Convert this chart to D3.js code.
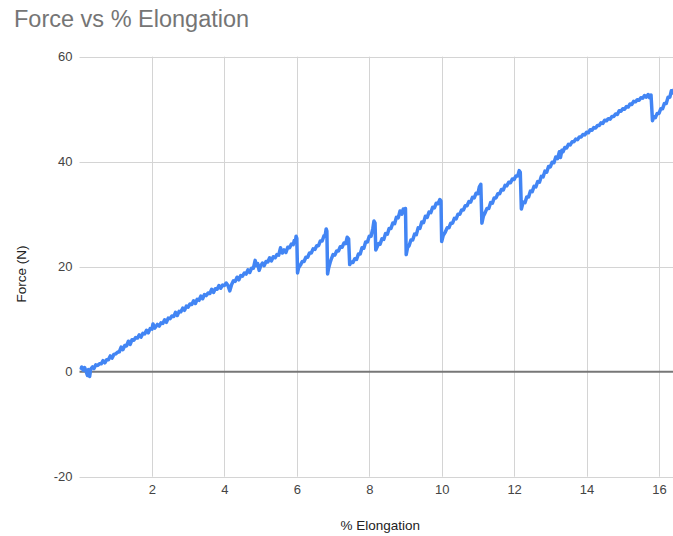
<!DOCTYPE html>
<html>
<head>
<meta charset="utf-8">
<script src="https://cdn.jsdelivr.net/npm/d3@7"></script>
<style>
	body { margin: 0; background: #fff; }
	svg { display: block; font-family: Arial, "Liberation Sans", sans-serif; }
</style>
</head>
<body>
<svg id="chart" width="673" height="536"></svg>
<script>
"use strict";

var chartTitle = "Force vs % Elongation";
var xLabel = "% Elongation";
var yLabel = "Force (N)";
var xTicks = [2, 4, 6, 8, 10, 12, 14, 16];
var yTicks = [-20, 0, 20, 40, 60];

// readings: [% elongation, force N]
var rampToFirstSlip = [
	[0.02,0.4],[0.06,0.9],[0.1,0.3],[0.14,0.8],[0.18,0.1],[0.22,-0.7],[0.25,0.4],[0.28,-0.9],[0.31,0.5],[0.36,0.9],
	[0.4,0.6],[0.45,1.3],[0.5,1.2],[0.55,1.5],[0.6,1.5],[0.65,2.1],[0.7,1.7],[0.75,2.3],[0.8,2.3],[0.85,3.0],
	[0.9,2.6],[0.95,3.3],[1.0,3.4],[1.05,3.7],[1.1,3.8],[1.15,4.7],[1.2,4.2],[1.25,5.0],[1.3,4.9],[1.35,5.8],
	[1.4,5.2],[1.45,6.1],[1.5,6.0],[1.55,6.5],[1.6,6.4],[1.65,7.0],[1.7,6.6],[1.75,7.3],[1.8,7.2],[1.85,7.9],
	[1.9,7.4],[1.95,8.2],[2.0,8.1],[2.03,9.1],[2.08,8.3],[2.15,9.0],[2.2,8.7],[2.25,9.3],[2.3,9.2],[2.35,9.9],
	[2.4,9.4],[2.45,10.2],[2.5,10.1],[2.55,10.6],[2.6,10.5],[2.65,11.3],[2.7,10.7],[2.75,11.5],[2.8,11.4],[2.85,12.1],
	[2.9,11.7],[2.95,12.5],[3.0,12.3],[3.05,12.9],[3.1,12.8],[3.15,13.5],[3.2,13.0],[3.25,13.8],[3.3,13.6],[3.35,14.4],
	[3.4,13.9],[3.45,14.7],[3.5,14.5],[3.55,15.0],[3.6,14.9],[3.65,15.7],[3.7,15.1],[3.75,15.8],[3.8,15.7],[3.85,16.4],
	[3.9,15.9],[3.95,16.5],[4.0,16.4],[4.05,16.9],[4.1,16.4],[4.15,15.4],[4.2,16.6],[4.25,17.3],[4.3,17.2],[4.35,18.0],
	[4.4,17.5],[4.45,18.3],[4.5,18.2],[4.55,18.8],[4.6,18.6],[4.65,19.4],[4.7,18.9],[4.75,19.7],[4.8,19.7],[4.85,21.2],
	[4.88,20.2],[4.92,20.6],[4.96,19.3],[5.0,20.1],[5.05,20.7],[5.1,20.2],[5.15,21.0],[5.2,20.9],[5.25,21.7],[5.3,21.1],
	[5.35,21.9],[5.4,21.7],[5.45,22.3],[5.5,22.2],[5.55,23.6],[5.6,22.6],[5.65,23.2],[5.7,22.7],[5.75,23.7],[5.8,23.6],
	[5.85,24.3],[5.9,24.2],[5.93,25.0],[5.96,24.7],[5.98,25.8],[6.0,25.4]
];
var slipCycles = [
	[6.02,18.8],[6.05,19.8],[6.1,20.3],[6.15,21.0],[6.2,21.0],[6.25,21.8],[6.3,21.8],[6.35,22.6],[6.4,22.6],[6.45,23.4],
	[6.5,23.3],[6.55,24.0],[6.6,24.0],[6.65,24.9],[6.7,24.9],[6.75,25.9],[6.78,25.8],[6.81,27.2],[6.83,26.8],
	[6.85,18.6],[6.88,19.8],[6.92,20.8],[6.96,21.6],[7.0,22.3],[7.05,22.2],[7.1,23.0],[7.15,23.0],[7.2,23.8],[7.25,23.7],
	[7.3,24.5],[7.35,24.4],[7.39,25.6],[7.43,25.3],
	[7.46,20.4],[7.5,20.9],[7.55,20.8],[7.6,21.5],[7.65,21.4],[7.7,22.4],[7.75,22.4],[7.8,23.6],[7.85,23.5],[7.9,24.7],
	[7.95,24.7],[8.0,25.8],[8.05,25.8],[8.1,27.3],[8.13,28.7],[8.16,28.3],
	[8.18,23.2],[8.22,23.8],[8.26,24.4],[8.3,24.3],[8.35,25.3],[8.4,25.2],[8.45,26.3],[8.5,26.2],[8.55,27.3],[8.6,27.3],
	[8.65,28.3],[8.7,28.2],[8.75,29.4],[8.8,29.3],[8.85,30.6],[8.9,30.0],[8.94,31.0],[8.98,30.5],[9.0,31.1],
	[9.02,22.3],[9.06,23.7],[9.1,24.0],[9.15,25.1],[9.2,25.1],[9.25,26.2],[9.3,26.1],[9.35,27.4],[9.4,27.3],[9.45,28.5],
	[9.5,28.4],[9.55,29.6],[9.6,29.4],[9.65,30.4],[9.7,30.3],[9.75,31.3],[9.8,31.2],[9.85,32.1],[9.9,32.0],[9.95,32.8],[9.98,32.5],
	[10.0,24.8],[10.04,25.9],[10.1,26.6],[10.15,27.4],[10.2,27.4],[10.25,28.3],[10.3,28.3],[10.35,29.2],[10.4,29.1],[10.45,30.0],
	[10.5,30.0],[10.55,30.8],[10.6,30.8],[10.65,31.6],[10.7,31.6],[10.75,32.4],[10.8,32.3],[10.85,33.2],[10.9,33.1],[10.95,34.0],
	[11.0,33.9],[11.04,35.2],[11.08,35.7],
	[11.11,28.3],[11.15,29.6],[11.2,30.3],[11.25,31.1],[11.3,31.1],[11.35,32.2],[11.4,32.1],[11.45,33.1],[11.5,33.1],[11.55,33.9],
	[11.6,33.9],[11.65,34.7],[11.7,34.6],[11.75,35.5],[11.8,35.4],[11.85,36.1],[11.9,36.0],[11.95,36.7],[12.0,36.6],[12.05,37.3],
	[12.1,37.3],[12.14,38.3],[12.17,38.0],
	[12.2,31.0],[12.25,32.3],[12.3,32.2],[12.35,33.3],[12.4,33.3],[12.45,34.4],[12.5,34.3],[12.55,35.3],[12.6,35.2],[12.65,36.2],
	[12.7,36.1],[12.75,37.2],[12.8,37.1],[12.85,38.2],[12.9,38.0],[12.95,39.1],[13.0,39.0],[13.05,39.9],[13.1,39.8],[13.15,40.9],
	[13.2,40.6],[13.25,41.9],[13.28,40.8],[13.32,42.2],[13.35,41.9],[13.4,42.7],[13.45,42.6],[13.5,43.3],[13.55,43.2],[13.6,43.8],
	[13.65,43.8],[13.7,44.3],[13.75,44.2],[13.8,44.7],[13.85,44.7],[13.9,45.2],[13.95,45.1],[14.0,45.6],[14.05,45.5],[14.1,46.1],
	[14.15,46.0],[14.2,46.5],[14.25,46.4],[14.3,46.9],[14.35,46.9],[14.4,47.4],[14.45,47.3],[14.5,47.9],[14.55,47.8],[14.6,48.2],
	[14.65,48.1],[14.7,48.6],[14.75,48.6],[14.8,49.1],[14.85,49.0],[14.9,49.7],[14.95,49.6],[15.0,50.1],[15.05,50.0],[15.1,50.5],
	[15.15,50.4],[15.2,51.0],[15.25,50.9],[15.3,51.5],[15.35,51.4],[15.4,51.8],[15.45,51.7],[15.5,52.2],[15.55,52.1],[15.6,52.6],
	[15.65,52.3],[15.7,52.8],[15.74,52.2],[15.78,52.7],
	[15.82,47.8],[15.86,48.6],[15.9,48.4],[15.95,49.2],[16.0,49.2],[16.05,50.1],[16.1,50.1],[16.15,51.1],[16.2,51.1],[16.25,52.3],
	[16.3,52.3],[16.34,53.5],[16.38,53.1],[16.42,53.8]
];

var svg = d3.select("#chart");
var plot = { left: 79.5, right: 673, top: 56.7, bottom: 476.7 };

var x = d3.scaleLinear().domain([0, 16]).range([plot.left, 659]);
var y = d3.scaleLinear().domain([-20, 60]).range([plot.bottom, plot.top]);

// title
svg.append("text")
	.attr("x", 14).attr("y", 26.5)
	.attr("font-size", "23.5px")
	.attr("fill", "#757575")
	.text(chartTitle);

// gridlines
var grid = svg.append("g").attr("stroke", "#d4d4d4").attr("stroke-width", 1);
yTicks.filter(function(t){ return t !== 0; }).forEach(function(t){
	grid.append("line")
		.attr("x1", plot.left).attr("x2", plot.right)
		.attr("y1", Math.round(y(t)) + 0.5).attr("y2", Math.round(y(t)) + 0.5);
});
xTicks.forEach(function(t){
	grid.append("line")
		.attr("x1", Math.round(x(t)) + 0.5).attr("x2", Math.round(x(t)) + 0.5)
		.attr("y1", plot.top).attr("y2", plot.bottom);
});

// axes (labels only, no domain)
var plain = function(d){ return String(d); };
var yAxis = svg.append("g")
	.attr("transform", "translate(" + (plot.left - 7) + ",0)")
	.call(d3.axisLeft(y).tickValues(yTicks).tickFormat(plain).tickSize(0).tickPadding(0));
var xAxis = svg.append("g")
	.attr("transform", "translate(0," + (plot.bottom + 8) + ")")
	.call(d3.axisBottom(x).tickValues(xTicks).tickFormat(plain).tickSize(0).tickPadding(0));
[yAxis, xAxis].forEach(function(ax){
	ax.select(".domain").remove();
	ax.selectAll("text")
		.attr("font-family", "Arial, 'Liberation Sans', sans-serif")
		.attr("font-size", "13px")
		.attr("fill", "#444");
});

// data line
svg.append("clipPath").attr("id", "clip")
	.append("rect")
	.attr("x", plot.left).attr("y", plot.top - 5)
	.attr("width", plot.right - plot.left).attr("height", plot.bottom - plot.top + 10);

var readings = rampToFirstSlip.concat(slipCycles);
var line = d3.line()
	.x(function(d){ return x(d[0]); })
	.y(function(d){ return y(d[1]); });

// zero baseline
svg.append("line")
	.attr("x1", plot.left).attr("x2", plot.right)
	.attr("y1", y(0)).attr("y2", y(0))
	.attr("stroke", "#777").attr("stroke-width", 2);

svg.append("path")
	.datum(readings)
	.attr("clip-path", "url(#clip)")
	.attr("fill", "none")
	.attr("stroke", "#4285f4")
	.attr("stroke-width", 3.5)
	.attr("stroke-linejoin", "round")
	.attr("d", line);

// axis titles
svg.append("text")
	.attr("x", (plot.left + plot.right) / 2 + 4).attr("y", 530)
	.attr("text-anchor", "middle")
	.attr("font-size", "13.5px")
	.attr("fill", "#222")
	.text(xLabel);
svg.append("text")
	.attr("transform", "translate(26,274) rotate(-90)")
	.attr("text-anchor", "middle")
	.attr("font-size", "13.5px")
	.attr("fill", "#222")
	.text(yLabel);
</script>
</body>
</html>
